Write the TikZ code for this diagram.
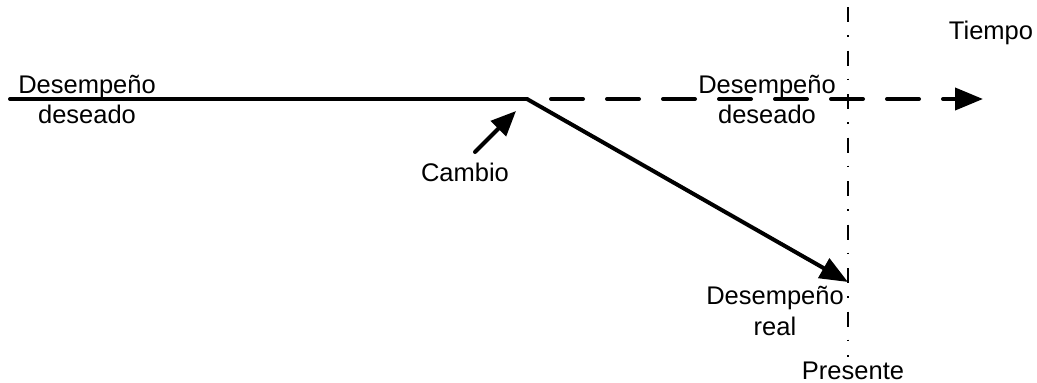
\documentclass[tikz,border=0pt]{standalone}
\usepackage{fontspec}
\setmainfont{Liberation Sans}
\usetikzlibrary{arrows.meta}

\begin{document}
\begin{tikzpicture}[x=1pt,y=-1pt,
  every node/.style={font=\fontsize{25.5}{30.5}\selectfont,inner sep=0pt,align=center},
  perf/.style={line width=4pt,line cap=round},
  bigtip/.style={-{Triangle[length=28pt,width=22pt]}},
  nowline/.style={line width=2pt,dash pattern=on 15pt off 13pt on 1.5pt off 14pt}]
  \useasboundingbox (0,0) rectangle (1037,383);
  \path (10,99) coordinate (p0) (527,99) coordinate (p1) (983,99) coordinate (p2)
  (848,282) coordinate (p3) (475,152) coordinate (c0) (516,111) coordinate (c1)
  (848,7) coordinate (t0) (848,357) coordinate (t1);
  \node (des1) at (87,99.5) {Desempeño\\deseado};
  \node (des2) at (767,99.5) {Desempeño\\deseado};
  \node (real) at (775,311) {Desempeño\\real};
  \node (cambio) at (465,172) {Cambio};
  \node (tiempo) at (991,33) {Tiempo};
  \node (presente) at (853,371) {Presente};
  \draw[nowline] (t0) -- (t1);
  \draw[perf] (p0) -- (p1);
  \draw[perf,bigtip,dash pattern=on 32pt off 24pt,dash phase=32pt] (p1) -- (p2);
  \draw[perf,bigtip] (p1) -- (p3);
  \draw[perf,-{Triangle[length=25pt,width=21pt]}] (c0) -- (c1);
\end{tikzpicture}
\end{document}
